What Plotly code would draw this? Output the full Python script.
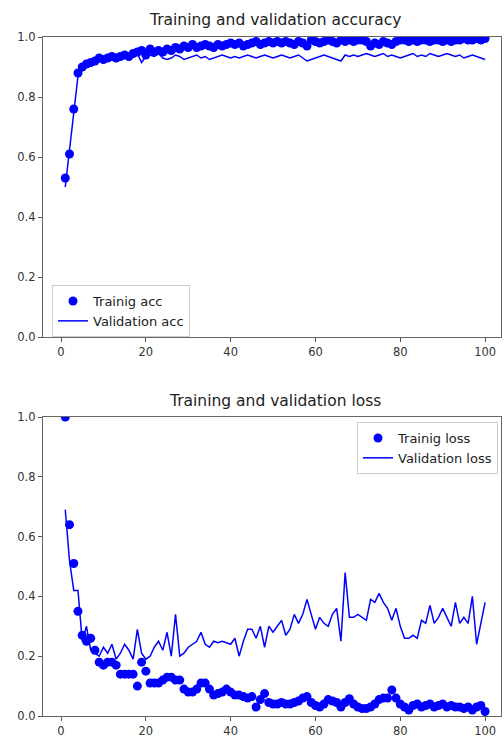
import plotly.graph_objects as go

epochs = list(range(1, 101))

train_acc = [
    0.53, 0.61, 0.76, 0.88, 0.90, 0.91, 0.915, 0.92, 0.93, 0.925,
    0.93, 0.935, 0.93, 0.935, 0.94, 0.935, 0.945, 0.95, 0.955, 0.94,
    0.96, 0.95, 0.955, 0.95, 0.96, 0.955, 0.965, 0.96, 0.97, 0.965,
    0.975, 0.965, 0.97, 0.975, 0.97, 0.965, 0.975, 0.97, 0.975, 0.98,
    0.975, 0.98, 0.97, 0.975, 0.98, 0.985, 0.975, 0.98, 0.985, 0.98,
    0.985, 0.98, 0.985, 0.98, 0.975, 0.985, 0.98, 0.97, 0.99, 0.985,
    0.98, 0.985, 0.99, 0.985, 0.98, 0.99, 0.985, 0.99, 0.985, 0.99,
    0.99, 0.985, 0.97, 0.98, 0.975, 0.985, 0.98, 0.975, 0.985, 0.99,
    0.99, 0.985, 0.99, 0.985, 0.99, 0.99, 0.985, 0.99, 0.99, 0.985,
    0.99, 0.985, 0.99, 0.99, 0.995, 0.99, 0.99, 0.995, 0.99, 0.995,
]

val_acc = [
    0.50, 0.62, 0.76, 0.87, 0.89, 0.90, 0.91, 0.915, 0.92, 0.925,
    0.93, 0.93, 0.935, 0.93, 0.935, 0.94, 0.935, 0.945, 0.915, 0.935,
    0.94, 0.935, 0.945, 0.93, 0.925, 0.93, 0.94, 0.935, 0.925, 0.93,
    0.935, 0.94, 0.93, 0.935, 0.925, 0.93, 0.935, 0.94, 0.935, 0.93,
    0.935, 0.93, 0.935, 0.94, 0.935, 0.93, 0.935, 0.94, 0.935, 0.93,
    0.935, 0.94, 0.935, 0.93, 0.935, 0.94, 0.93, 0.92, 0.925, 0.93,
    0.935, 0.94, 0.935, 0.93, 0.925, 0.92, 0.94, 0.935, 0.94, 0.935,
    0.94, 0.945, 0.94, 0.935, 0.94, 0.945, 0.935, 0.94, 0.935, 0.93,
    0.935, 0.94, 0.945, 0.935, 0.94, 0.935, 0.945, 0.94, 0.935, 0.94,
    0.945, 0.94, 0.935, 0.94, 0.93, 0.935, 0.94, 0.935, 0.93, 0.925,
]

train_loss = [
    1.00, 0.64, 0.51, 0.35, 0.27, 0.25, 0.26, 0.22, 0.18, 0.17,
    0.18, 0.18, 0.17, 0.14, 0.14, 0.14, 0.14, 0.10, 0.18, 0.15,
    0.11, 0.11, 0.11, 0.12, 0.13, 0.13, 0.12, 0.12, 0.09, 0.08,
    0.08, 0.09, 0.11, 0.11, 0.09, 0.07, 0.075, 0.08, 0.09, 0.08,
    0.07, 0.07, 0.065, 0.06, 0.065, 0.03, 0.055, 0.075, 0.045, 0.04,
    0.04, 0.045, 0.04, 0.04, 0.045, 0.05, 0.06, 0.065, 0.045, 0.035,
    0.03, 0.04, 0.055, 0.05, 0.045, 0.03, 0.045, 0.058, 0.04, 0.03,
    0.025, 0.025, 0.03, 0.04, 0.055, 0.06, 0.06, 0.087, 0.06, 0.04,
    0.03, 0.02, 0.035, 0.04, 0.03, 0.035, 0.04, 0.03, 0.035, 0.04,
    0.03, 0.035, 0.03, 0.03, 0.025, 0.03, 0.02, 0.03, 0.035, 0.015,
]

val_loss = [
    0.69, 0.52, 0.42, 0.42, 0.25, 0.30, 0.22, 0.21, 0.20, 0.23,
    0.21, 0.24, 0.19, 0.21, 0.24, 0.22, 0.19, 0.29, 0.21, 0.19,
    0.20, 0.23, 0.25, 0.22, 0.28, 0.20, 0.34, 0.20, 0.21, 0.23,
    0.24, 0.25, 0.28, 0.24, 0.23, 0.25, 0.245, 0.25, 0.245, 0.24,
    0.26, 0.20, 0.25, 0.29, 0.29, 0.26, 0.30, 0.23, 0.30, 0.28,
    0.30, 0.32, 0.27, 0.29, 0.34, 0.31, 0.34, 0.39, 0.34, 0.29,
    0.33, 0.31, 0.30, 0.34, 0.36, 0.25, 0.48, 0.33, 0.33, 0.34,
    0.33, 0.32, 0.39, 0.38, 0.41, 0.38, 0.36, 0.32, 0.36, 0.30,
    0.26, 0.26, 0.27, 0.26, 0.32, 0.31, 0.37, 0.31, 0.33, 0.36,
    0.33, 0.30, 0.38, 0.31, 0.33, 0.31, 0.40, 0.24, 0.31, 0.38,
]

x_ticks = [0, 20, 40, 60, 80, 100]
y_ticks = [0.0, 0.2, 0.4, 0.6, 0.8, 1.0]
y_ticktext = ["0.0", "0.2", "0.4", "0.6", "0.8", "1.0"]

W, H = 504, 740
BLUE = "#0000ff"
FONT = "DejaVu Sans"

fig = go.Figure()

fig.add_trace(go.Scatter(x=epochs, y=train_acc, mode="markers", name="Trainig acc",
                         marker=dict(color=BLUE, size=9), xaxis="x", yaxis="y", legend="legend"))
fig.add_trace(go.Scatter(x=epochs, y=val_acc, mode="lines", name="Validation acc",
                         line=dict(color=BLUE, width=1.5), xaxis="x", yaxis="y", legend="legend"))
fig.add_trace(go.Scatter(x=epochs, y=train_loss, mode="markers", name="Trainig loss",
                         marker=dict(color=BLUE, size=9), xaxis="x2", yaxis="y2", legend="legend2"))
fig.add_trace(go.Scatter(x=epochs, y=val_loss, mode="lines", name="Validation loss",
                         line=dict(color=BLUE, width=1.5), xaxis="x2", yaxis="y2", legend="legend2"))

x0, x1 = 43 / W, 501 / W
xrange = [-4.25, 103.75]

axis_common = dict(showline=True, linecolor="#666666", linewidth=1.2, mirror=True,
                   ticks="outside", ticklen=4, tickcolor="#555555", tickwidth=1,
                   showgrid=False, zeroline=False, automargin=False,
                   tickfont=dict(family=FONT, size=11.5, color="#333333"))

fig.update_layout(
    width=W, height=H,
    margin=dict(l=0, r=0, t=0, b=0),
    paper_bgcolor="white", plot_bgcolor="white",
    font=dict(family=FONT, color="#222222"),
    showlegend=True,
    xaxis=dict(domain=[x0, x1], range=xrange, tickvals=x_ticks, anchor="y", **axis_common),
    yaxis=dict(domain=[1 - 337 / H, 1 - 37 / H], range=[0, 1], tickvals=y_ticks,
               ticktext=y_ticktext, anchor="x", **axis_common),
    xaxis2=dict(domain=[x0, x1], range=xrange, tickvals=x_ticks, anchor="y2", **axis_common),
    yaxis2=dict(domain=[1 - 716 / H, 1 - 417 / H], range=[0, 1], tickvals=y_ticks,
                ticktext=y_ticktext, anchor="x2", **axis_common),
    legend=dict(x=52 / W, y=1 - 285 / H, xanchor="left", yanchor="top",
                bgcolor="rgba(255,255,255,0.85)", bordercolor="#cccccc", borderwidth=1,
                font=dict(family=FONT, size=13, color="#222222"), tracegroupgap=0),
    legend2=dict(x=498 / W, y=1 - 422 / H, xanchor="right", yanchor="top",
                 bgcolor="rgba(255,255,255,0.85)", bordercolor="#cccccc", borderwidth=1,
                 font=dict(family=FONT, size=13, color="#222222"), tracegroupgap=0),
    annotations=[
        dict(text="Training and validation accuracy", x=275 / W, y=1 - 20 / H,
             xref="paper", yref="paper", showarrow=False, xanchor="center", yanchor="middle",
             font=dict(family=FONT, size=15.5, color="#222222")),
        dict(text="Training and validation loss", x=275 / W, y=1 - 401 / H,
             xref="paper", yref="paper", showarrow=False, xanchor="center", yanchor="middle",
             font=dict(family=FONT, size=15.5, color="#222222")),
    ],
)

fig.write_html(
    "out.html",
    config={"displayModeBar": False},
    post_script="document.body.style.margin='0px';document.body.style.overflow='hidden';",
)
